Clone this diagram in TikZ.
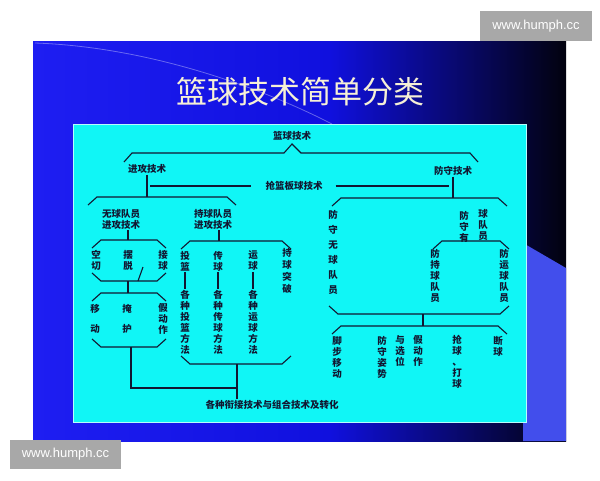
\documentclass[tikz,border=0pt]{standalone}
\usepackage{fontspec}
\newfontfamily\cjk{Noto Sans CJK SC}
\newfontfamily\wmfont{Liberation Sans}
\usetikzlibrary{calc}
\definecolor{slideA}{RGB}{30,30,242}
\definecolor{slideB}{RGB}{16,16,222}
\definecolor{slideC}{RGB}{2,2,14}
\definecolor{sideblue}{RGB}{66,78,236}
\definecolor{panel}{RGB}{16,246,246}
\definecolor{ink}{RGB}{18,22,48}
\definecolor{titlecol}{RGB}{246,240,214}
\definecolor{wmgray}{RGB}{168,168,168}

\begin{document}
\begin{tikzpicture}[x=1pt,y=-1pt]
    \newcommand{\topbr}[3]{\draw[lnk] (#1-9,#3+8) -- (#1,#3) -- (#2,#3) -- (#2+9,#3+8);}
    \newcommand{\botbr}[3]{\draw[lnk] (#1-9,#3-8) -- (#1,#3) -- (#2,#3) -- (#2+9,#3-8);}

    \tikzstyle{txt}  = [inner sep=0.8pt, text=ink, font=\cjk\bfseries\fontsize{9.5}{11}\selectfont]
    \tikzstyle{col}  = [txt, align=center]
    \tikzstyle{colw} = [col, font=\cjk\bfseries\fontsize{9.5}{15}\selectfont]
    \tikzstyle{colx} = [col, font=\cjk\bfseries\fontsize{9.5}{20}\selectfont]
    \tikzstyle{lnk}  = [line width=1.1pt, draw=ink]
    \tikzstyle{wmtxt}= [text=white, font=\wmfont\fontsize{13}{13}\selectfont]

    \useasboundingbox (0,0) rectangle (600,480);
    \fill[white] (0,0) rectangle (600,480);

    % slide
    \shade[left color=slideA, right color=slideB] (33,41) rectangle (330,441);
    \shade[left color=slideB, right color=slideC] (330,41) rectangle (566,441);
    \fill[sideblue] (523,243) -- (566,268) -- (566,441) -- (523,441) -- cycle;
    \draw[white, opacity=0.35, line width=0.8pt] (35,43) .. controls (150,47) and (262,88) .. (332,124);
    \node[font=\cjk\fontsize{31}{31}\selectfont, text=titlecol] (title) at (300,92) {篮球技术简单分类};
    \fill[panel] (73,124) rectangle (526,422);
    \draw[white!70!panel, line width=0.6pt] (73,124) rectangle (526,422);

    % top levels
    \node[txt] (lq) at (292,136) {篮球技术};
    \draw[lnk] (124,162) -- (132,153) -- (284,153) -- (292,144) -- (301,153) -- (470,153) -- (478,162);
    \node[txt] (jg) at (147,169) {进攻技术};
    \node[txt] (fs) at (453,171) {防守技术};
    \node[txt] (lb) at (294,186) {抢篮板球技术};
    \draw[lnk] (jg) -- (jg |- 0,197);
    \draw[lnk] (fs) -- (fs |- 0,198);
    \draw[lnk] ([xshift=-14pt]lb.west) -- ([xshift=3pt]jg |- lb);
    \draw[lnk] ([xshift=12pt]lb.east) -- ([xshift=-4pt]fs |- lb);
    \topbr{97}{227}{197}
    \topbr{341}{498}{198}

    % attack without ball
    \node[col] (wq) at (121,219) {无球队员\\进攻技术};
    \draw[lnk] (wq.south -| 128,0) -- (128,240);
    \topbr{101}{157}{240}
    \botbr{101}{157}{281}
    \node[col] (kq) at (96,260) {空\\切};
    \node[col] (bt) at (128,260) {摆\\脱};
    \node[col] (jq) at (163,260) {接\\球};
    \draw[lnk] (143,267) -- (138,281);
    \draw[lnk] (bt |- 0,281) -- (bt |- 0,293);
    \topbr{101}{157}{293}
    \botbr{101}{157}{347}
    \node[colx] (yd) at (95,319) {移\\动};
    \node[colx] (yh) at (127,319) {掩\\护};
    \node[col] (jdz1) at (163,319) {假\\动\\作};
    \draw[lnk] (131,347) -- (131,388) -- (237,388);

    % attack with ball
    \node[col] (cq) at (213,219) {持球队员\\进攻技术};
    \draw[lnk] (cq.south -| 219,0) -- (219,241);
    \topbr{190}{282}{241}
    \botbr{190}{282}{364}
    \node[col] (tl) at (185,261) {投\\篮};
    \node[col] (tlf) at (185,322) {各\\种\\投\\篮\\方\\法};
    \node[col] (cqq) at (218,261) {传\\球};
    \node[col] (cqf) at (218,322) {各\\种\\传\\球\\方\\法};
    \node[col] (yq) at (253,261) {运\\球};
    \node[col] (yqf) at (253,322) {各\\种\\运\\球\\方\\法};
    \node[colw, font=\cjk\bfseries\fontsize{9.5}{12}\selectfont] (tp) at (287,271) {持\\球\\突\\破};
    \draw[lnk] (tl) -- (tlf);
    \draw[lnk] (cqq) -- (cqf);
    \draw[lnk] (yq) -- (yqf);
    \node[txt] (gz) at (272,405) {各种衔接技术与组合技术及转化};
    \draw[lnk] (237,364) -- (gz.north -| 237,0);

    % defence
    \node[colw] (fwq) at (333,252) {防\\守\\无\\球\\队\\员};
    \node[col] (fyq1) at (464,227) {防\\守\\有};
    \node[col] (fyq2) at (483,225) {球\\队\\员};
    \topbr{442}{500}{241}
    \node[col] (fcq) at (435,276) {防\\持\\球\\队\\员};
    \node[col] (fyun) at (504,276) {防\\运\\球\\队\\员};
    \botbr{338}{500}{314}
    \draw[lnk] (423,314) -- (423,326);
    \topbr{341}{498}{326}
    \node[col] (jb) at (337,357) {脚\\步\\移\\动};
    \node[col] (zs) at (382,357) {防\\守\\姿\\势};
    \node[col] (xw) at (400,351) {与\\选\\位};
    \node[col] (jdz2) at (418,351) {假\\动\\作};
    \node[col] (qq) at (457,362) {抢\\球\\、\\打\\球};
    \node[col] (dq) at (498,346) {断\\球};

    % marks
    \fill[wmgray] (480,11) rectangle (592,41);
    \node[wmtxt] (wm1) at (536,26) {www.humph.cc};
    \fill[wmgray] (10,440) rectangle (121,469);
    \node[wmtxt] (wm2) at (65.5,454.5) {www.humph.cc};
\end{tikzpicture}
\end{document}
